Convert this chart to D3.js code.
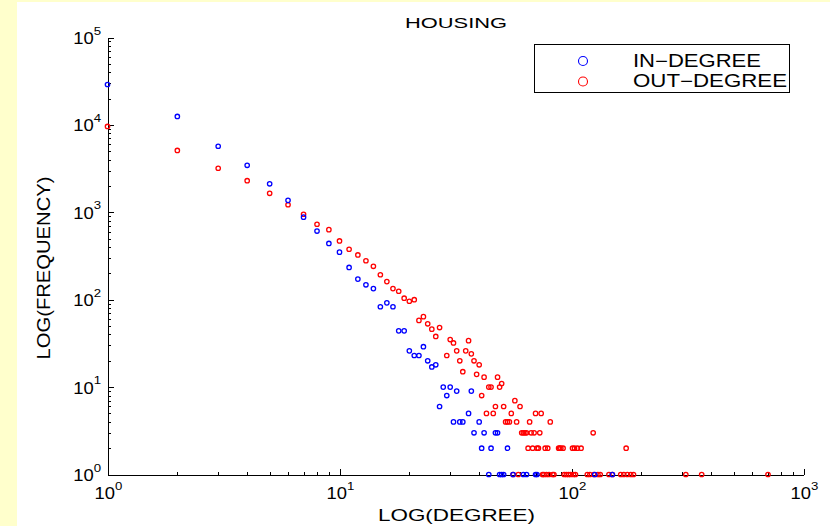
<!DOCTYPE html>
<html>
<head>
<meta charset="utf-8">
<script src="https://cdn.jsdelivr.net/npm/d3@7"></script>
<style>
  body { margin: 0; background: #fff; }
  svg { display: block; }
  text { font-family: "Liberation Sans", Arial, Helvetica, sans-serif; fill: #000; }
</style>
</head>
<body>
<svg id="chart" width="830" height="526"></svg>
<script>
// Degree distribution of the HOUSING network (frequency of each degree value)
const inDegree = [1,2,3,4,5,6,7,8,9,10,11,12,13,14,15,16,17,18,19,20,21,22,23,24,25,26,27,28,29,30,31,32,33,34,
  36,37,38,40,41,42,44,45,47,48,49,50,51,53,56,62,64,70,71,126,150];
const inCount = [29000,12500,5700,3450,2120,1370,880,610,440,350,234,172,148,134,83,92,83,44,44,26,23,23,29,20,17,18,6,10,8,10,4,9,4,4,
  5,9,3,4,2,3,1,2,3,3,1,1,1,2,1,1,1,1,1,1,1];

const outDegree = [1,2,3,4,5,6,7,8,9,10,11,12,13,14,15,16,17,18,19,20,21,22,23,24,25,26,27,29,30,31,32,33,34,35,36,37,38,39,40,
  41,42,43,44,45,46,47,48,49,50,51,52,53,54,55,56,57,58,59,60,61,62,63,64,65,66,67,68,69,70,71,72,73,74,75,76,77,78,79,80,
  81,83,84,88,89,90,92,93,95,97,99,101,102,103,104,106,110,117,120,124,125,130,133,145,150,163,168,172,174,180,185,311,364,703];
const outCount = [9600,5100,3190,2300,1650,1220,950,730,633,470,378,325,279,241,193,161,134,125,104,96,100,58,64,53,46,38,48,23,35,32,26,20,15,26,34,24,20,14,18,
  8,13,5,10,10,5,6,13,10,11,6,4,4,4,5,1,7,4,1,6,3,3,3,3,2,4,3,2,3,5,2,2,3,5,1,1,2,1,2,1,
  4,1,1,2,2,2,2,1,1,1,1,2,1,2,1,2,2,1,1,3,1,1,1,1,1,1,1,2,1,1,1,1,1,1];

const xTickExponents = [0,1,2,3];
const yTickExponents = [0,1,2,3,4,5];
const seriesNames = ["IN\u2212DEGREE", "OUT\u2212DEGREE"];
const seriesColors = ["#0000ff", "#ff0000"];
const titleText = "HOUSING";
const xTitle = "LOG(DEGREE)";
const yTitle = "LOG(FREQUENCY)";

const svg = d3.select("#chart");

// page background and white figure area
svg.append("rect").attr("width", 830).attr("height", 526).attr("fill", "#ffffcc");
svg.append("rect").attr("x", 17).attr("y", 2).attr("width", 813).attr("height", 524).attr("fill", "#ffffff");

const x = d3.scaleLog().domain([1, 1000]).range([107.5, 803.5]);
const y = d3.scaleLog().domain([1, 1e5]).range([474.5, 37.5]);

// minor tick values 2..9 within each decade
const minorX = [], minorY = [];
for (let e = 0; e < 3; e++) for (let m = 2; m <= 9; m++) minorX.push(m * Math.pow(10, e));
for (let e = 0; e < 5; e++) for (let m = 2; m <= 9; m++) minorY.push(m * Math.pow(10, e));

// x axis: ticks pointing inward (up)
const gx = svg.append("g").attr("transform", `translate(0,${y.range()[0]})`);
gx.call(d3.axisBottom(x).tickValues(xTickExponents.map(e => Math.pow(10, e)))
  .tickSizeInner(-6).tickSizeOuter(0).tickFormat(""));
const gxm = svg.append("g").attr("transform", `translate(0,${y.range()[0]})`);
gxm.call(d3.axisBottom(x).tickValues(minorX).tickSizeInner(-3).tickSizeOuter(0).tickFormat(""));
gxm.select(".domain").remove();

// y axis: ticks pointing inward (right)
const gy = svg.append("g").attr("transform", `translate(${x.range()[0]},0)`);
gy.call(d3.axisLeft(y).tickValues(yTickExponents.map(e => Math.pow(10, e)))
  .tickSizeInner(-6).tickSizeOuter(0).tickFormat(""));
const gym = svg.append("g").attr("transform", `translate(${x.range()[0]},0)`);
gym.call(d3.axisLeft(y).tickValues(minorY).tickSizeInner(-3).tickSizeOuter(0).tickFormat(""));
gym.select(".domain").remove();

svg.selectAll(".domain, .tick line").attr("stroke", "#000").attr("stroke-width", 1).attr("shape-rendering", "crispEdges");

// power-of-ten tick labels
function powerLabel(g, e, anchor) {
  const t = g.append("text").attr("text-anchor", anchor).attr("font-size", 16);
  t.append("tspan").text("10");
  t.append("tspan").attr("dy", -9.3).attr("font-size", 11.5).text(String(e));
}
xTickExponents.forEach(e => {
  const g = svg.append("g").attr("transform", `translate(${x(Math.pow(10, e)) + 1},499.3) scale(1.15,1)`);
  powerLabel(g, e, "middle");
});
yTickExponents.forEach(e => {
  const g = svg.append("g").attr("transform", `translate(101,${y(Math.pow(10, e)) + 6.4}) scale(1.15,1)`);
  powerLabel(g, e, "end");
});

// titles
svg.append("text").attr("x", 456).attr("y", 27.7).attr("text-anchor", "middle")
  .attr("font-size", 15.5).attr("textLength", 102).attr("lengthAdjust", "spacingAndGlyphs").text(titleText);
svg.append("text").attr("x", 456.5).attr("y", 521).attr("text-anchor", "middle")
  .attr("font-size", 17).attr("textLength", 157).attr("lengthAdjust", "spacingAndGlyphs").text(xTitle);
svg.append("text").attr("transform", "translate(50,268) rotate(-90)").attr("text-anchor", "middle")
  .attr("font-size", 18).attr("textLength", 183).attr("lengthAdjust", "spacingAndGlyphs").text(yTitle);

// data markers: hollow circles
const series = [
  { deg: outDegree, cnt: outCount, color: seriesColors[1] },
  { deg: inDegree, cnt: inCount, color: seriesColors[0] }
];
series.forEach(s => {
  svg.append("g").selectAll("circle")
    .data(s.deg.map((d, i) => [d, s.cnt[i]]))
    .join("circle")
    .attr("cx", d => x(d[0]))
    .attr("cy", d => y(d[1]))
    .attr("r", 2.2)
    .attr("fill", "none")
    .attr("stroke", s.color)
    .attr("stroke-width", 1.3);
});

// legend
const lg = svg.append("g");
lg.append("rect").attr("x", 534.5).attr("y", 44.5).attr("width", 255).attr("height", 48)
  .attr("fill", "#fff").attr("stroke", "#000").attr("stroke-width", 1);
const legendWidths = [128, 154];
seriesNames.forEach((name, i) => {
  const cy = 61 + i * 20.5;
  lg.append("circle").attr("cx", 583).attr("cy", cy).attr("r", 4.5)
    .attr("fill", "none").attr("stroke", seriesColors[i]).attr("stroke-width", 1.1);
  lg.append("text").attr("x", 633).attr("y", cy + 5.5).attr("font-size", 17.5)
    .attr("textLength", legendWidths[i]).attr("lengthAdjust", "spacingAndGlyphs").text(name);
});
</script>
</body>
</html>
